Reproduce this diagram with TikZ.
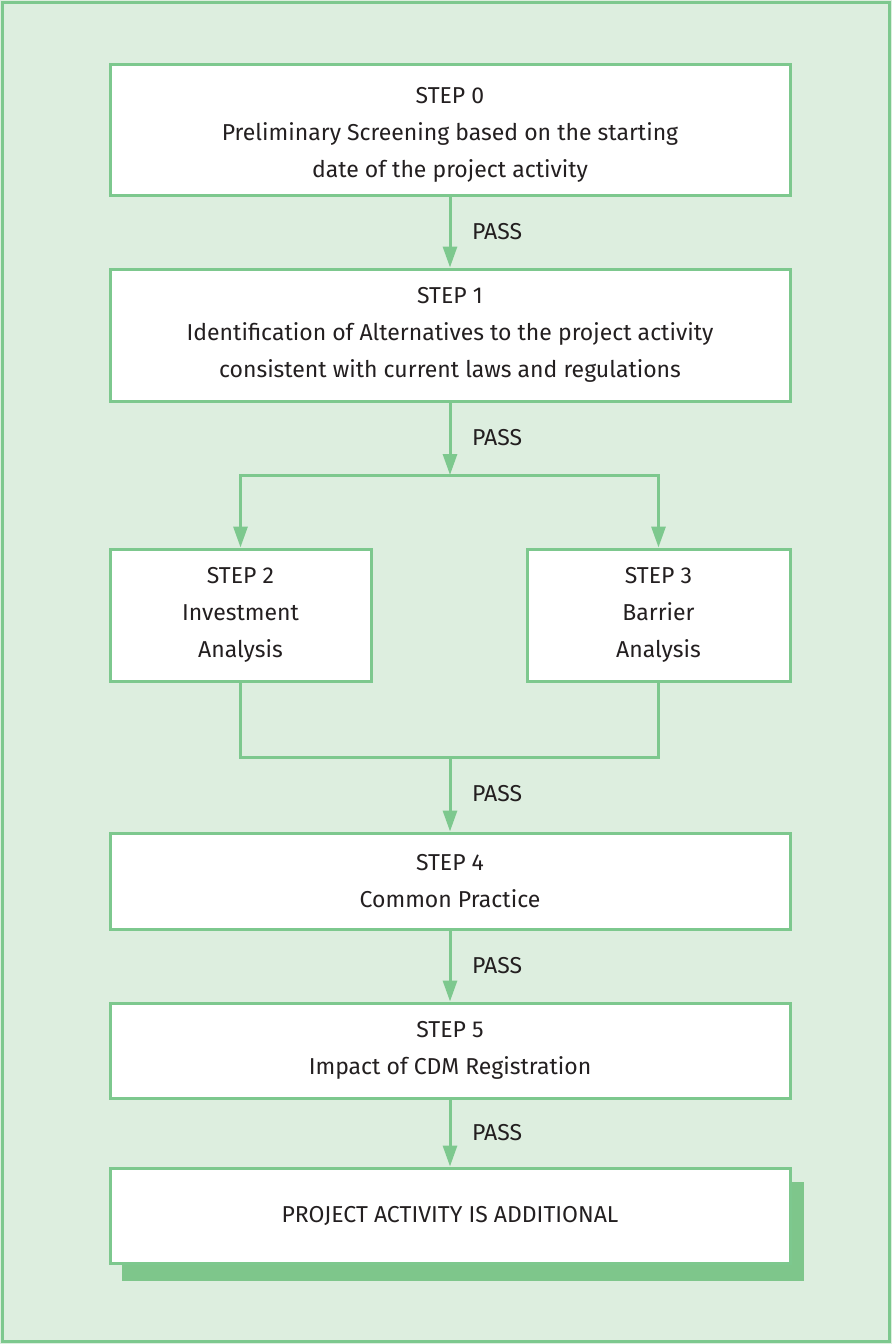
\documentclass[tikz,border=0pt]{standalone}
\usepackage{fontspec}
\setmainfont{Fira Sans}
\usetikzlibrary{arrows.meta}
\definecolor{gline}{HTML}{7DC88E}
\definecolor{gbg}{HTML}{DDEEDF}
\definecolor{gshadow}{HTML}{7EC68B}
\definecolor{txt}{HTML}{231F20}
\begin{document}
\begin{tikzpicture}[x=1pt,y=-1pt,
  stepbox/.style={draw=gline,line width=3pt,fill=white,text=txt,align=center,
    font=\fontsize{23}{37}\selectfont,inner sep=0pt},
  steptext/.style={text=txt,align=center,font=\fontsize{23}{37}\selectfont,inner sep=0pt},
  conn/.style={draw=gline,line width=3pt},
  arr/.style={conn,-{Triangle[length=21pt,width=14pt]}},
  passlbl/.style={text=txt,font=\fontsize{23}{27}\selectfont,anchor=west,inner sep=0pt}]
\useasboundingbox (0,0) rectangle (892,1344);
\fill[gbg] (0,0) rectangle (892,1344);
\draw[gline,line width=2.5pt] (2.5,2.5) rectangle (889.5,1341.5);

\node[stepbox,minimum width=680pt,minimum height=131pt] (b0) at (450,129.5) {};
\node[steptext] (b0t) at (450,135)
  {STEP 0\\Preliminary Screening based on the starting\\date of the project activity};
\node[stepbox,minimum width=680pt,minimum height=132pt] (b1) at (450,335)
  {STEP 1\\Identification of Alternatives to the project activity\\consistent with current laws and regulations};
\node[stepbox,minimum width=261pt,minimum height=132pt] (b2) at (240.5,615)
  {STEP 2\\Investment\\Analysis};
\node[stepbox,minimum width=263pt,minimum height=132pt] (b3) at (658.5,615)
  {STEP 3\\Barrier\\Analysis};
\node[stepbox,minimum width=680pt,minimum height=96pt] (b4) at (450,881)
  {STEP 4\\Common Practice};
\node[stepbox,minimum width=680pt,minimum height=95pt] (b5) at (450,1050.5)
  {STEP 5\\Impact of CDM Registration};
\fill[gshadow] (122,1182) rectangle (804,1281);
\node[stepbox,minimum width=680pt,minimum height=95pt] (b6) at (450,1215.5)
  {PROJECT ACTIVITY IS ADDITIONAL};

\coordinate (split) at (450,475);
\coordinate (join) at (450,757);

\draw[arr] (b0.south) -- (b1.north);
\draw[arr] (b1.south) -- (split);
\draw[arr] (split) -| (b2.north);
\draw[arr] (split) -| (b3.north);
\draw[conn] (b2.south) |- (join) -| (b3.south);
\draw[arr] (join) -- (b4.north);
\draw[arr] (b4.south) -- (b5.north);
\draw[arr] (b5.south) -- (b6.north);

\node[passlbl] (p0) at (472,232) {PASS};
\node[passlbl] (p1) at (472,438) {PASS};
\node[passlbl] (p2) at (472,794) {PASS};
\node[passlbl] (p3) at (472,966) {PASS};
\node[passlbl] (p4) at (472,1133) {PASS};
\end{tikzpicture}
\end{document}
